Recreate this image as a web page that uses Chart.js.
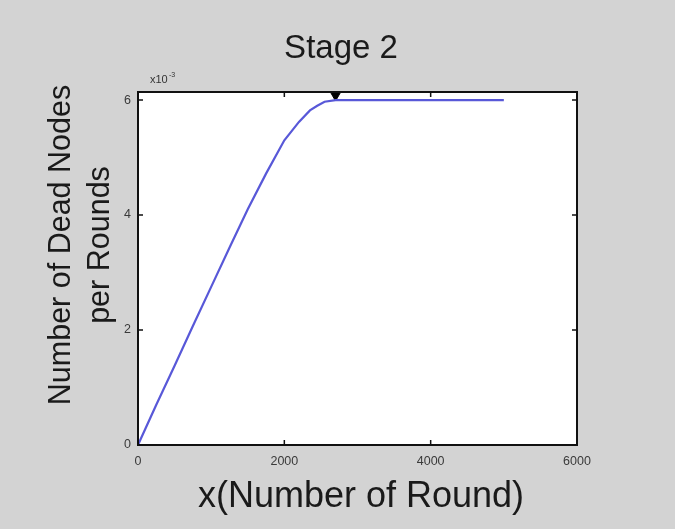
<!DOCTYPE html>
<html>
<head>
<meta charset="utf-8">
<script src="https://cdn.jsdelivr.net/npm/chart.js@4/dist/chart.umd.min.js"></script>
<style>
  html, body { margin: 0; padding: 0; background: #d3d3d3; }
  #wrap { width: 675px; height: 529px; }
</style>
</head>
<body>
<div id="wrap"><canvas id="c" width="675" height="529"></canvas></div>
<script>
// Dead nodes per round (values in units of 10^-3)
const rounds = [0, 250, 500, 750, 1000, 1250, 1500, 1750, 2000, 2200, 2350, 2450, 2550, 2700, 3000, 3500, 4000, 4500, 5000];
const deadNodes = [0, 0.7, 1.38, 2.07, 2.75, 3.43, 4.1, 4.72, 5.3, 5.62, 5.82, 5.9, 5.97, 6.0, 6.0, 6.0, 6.0, 6.0, 6.0];

// Marker at the top of the axes
const markerRound = [2700];
const markerValue = [6.14];

// Axis ticks
const xTicks = [0, 2000, 4000, 6000];
const yTicks = [0, 2, 4, 6];

const titleText = 'Stage 2';
const xTitle = 'x(Number of Round)';
const yTitleLines = ['Number of Dead Nodes', 'per Rounds'];

const FONT = '"Liberation Sans", Arial, sans-serif';

const framePlugin = {
  id: 'frame',
  beforeDraw(chart) {
    const { ctx, chartArea: a } = chart;
    ctx.save();
    ctx.fillStyle = '#d3d3d3';
    ctx.fillRect(0, 0, chart.width, chart.height);
    ctx.fillStyle = '#ffffff';
    ctx.fillRect(a.left, a.top, a.right - a.left, a.bottom - a.top);
    ctx.restore();
  },
  afterDraw(chart) {
    const { ctx, chartArea: a, scales } = chart;
    ctx.save();
    // axes box
    ctx.strokeStyle = '#111111';
    ctx.lineWidth = 2;
    ctx.strokeRect(a.left, a.top, a.right - a.left, a.bottom - a.top);
    // inward tick marks on all four sides
    ctx.lineWidth = 1.5;
    const tl = 5;
    scales.x.ticks.forEach(t => {
      const px = scales.x.getPixelForValue(t.value);
      ctx.beginPath();
      ctx.moveTo(px, a.bottom); ctx.lineTo(px, a.bottom - tl);
      ctx.moveTo(px, a.top); ctx.lineTo(px, a.top + tl);
      ctx.stroke();
    });
    scales.y.ticks.forEach(t => {
      const py = scales.y.getPixelForValue(t.value);
      ctx.beginPath();
      ctx.moveTo(a.left, py); ctx.lineTo(a.left + tl, py);
      ctx.moveTo(a.right, py); ctx.lineTo(a.right - tl, py);
      ctx.stroke();
    });

    // titles
    ctx.fillStyle = '#1a1a1a';
    ctx.textAlign = 'center';
    ctx.textBaseline = 'alphabetic';
    ctx.font = '33px ' + FONT;
    ctx.fillText(titleText, 341, 58);
    ctx.font = '36px ' + FONT;
    ctx.fillText(xTitle, 361, 507);

    ctx.font = '30.5px ' + FONT;
    ctx.save();
    ctx.translate(0, 245);
    ctx.rotate(-Math.PI / 2);
    ctx.textBaseline = 'middle';
    ctx.fillText(yTitleLines[0], 0, 62);
    ctx.fillText(yTitleLines[1], 0, 101);
    ctx.restore();

    // exponent label
    ctx.fillStyle = '#333333';
    ctx.textAlign = 'left';
    ctx.font = '11px ' + FONT;
    ctx.fillText('x10', 150, 83);
    ctx.font = '7px ' + FONT;
    ctx.fillText('-3', 169, 77);
    ctx.restore();
  }
};

new Chart(document.getElementById('c'), {
  type: 'scatter',
  data: {
    datasets: [
      {
        data: rounds.map((r, i) => ({ x: r, y: deadNodes[i] })),
        showLine: true,
        borderColor: '#5858d8',
        borderWidth: 2.2,
        pointRadius: 0,
        tension: 0
      },
      {
        data: markerRound.map((r, i) => ({ x: r, y: markerValue[i] })),
        pointStyle: 'triangle',
        rotation: 180,
        pointRadius: 9,
        backgroundColor: '#000000',
        borderColor: '#000000',
        showLine: false
      }
    ]
  },
  options: {
    responsive: false,
    animation: false,
    devicePixelRatio: 1,
    layout: { padding: { left: 0, right: 98, top: 92, bottom: 0 } },
    plugins: { legend: { display: false }, title: { display: false }, tooltip: { enabled: false } },
    scales: {
      x: {
        type: 'linear',
        min: 0,
        max: 6000,
        afterBuildTicks(s) { s.ticks = xTicks.map(v => ({ value: v })); },
        afterFit(s) { s.height = 84; },
        grid: { display: false, drawTicks: false },
        border: { display: false },
        ticks: { padding: 9, color: '#3a3a3a', font: { family: FONT, size: 12.5 }, callback: v => String(v) }
      },
      y: {
        type: 'linear',
        min: 0,
        max: 6.14,
        afterBuildTicks(s) { s.ticks = yTicks.map(v => ({ value: v })); },
        afterFit(s) { s.width = 138; },
        grid: { display: false, drawTicks: false },
        border: { display: false },
        ticks: { padding: 7, color: '#3a3a3a', font: { family: FONT, size: 12.5 }, callback: v => String(v) }
      }
    }
  },
  plugins: [framePlugin]
});
</script>
</body>
</html>
